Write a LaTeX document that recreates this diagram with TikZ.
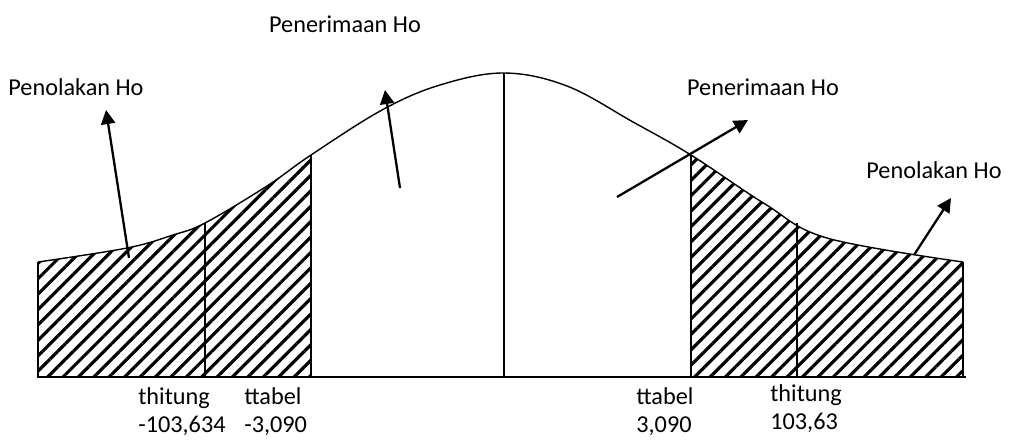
\documentclass[tikz,border=0pt]{standalone}
\usepackage{fontspec}
\setmainfont{Carlito}
\usetikzlibrary{arrows.meta, patterns.meta}
\definecolor{inkblack}{HTML}{000000}
\tikzset{
  curveline/.style={line width=0.8pt, inkblack},
  axisline/.style={line width=1.6pt, inkblack},
  boundline/.style={line width=0.6pt, inkblack},
  hatch/.style={pattern={Lines[angle=45, distance=6.2pt, line width=1.8pt]}, pattern color=inkblack},
  arr/.style={-{Triangle[length=8pt, width=8pt]}, line width=1.3pt, inkblack},
  lbl/.style={font=\fontsize{13.8}{16}\selectfont, inner sep=0pt},
  vallbl/.style={lbl, align=left, anchor=north west}
}
% curve of the distribution (pixel units)
\def\normcurve{plot[smooth, tension=0.6] coordinates {(38,262) (127,248) (173,235) (205,223) (267,186) (311,155) (382,110) (440,85) (504,73) (567,86) (633,122) (691,155) (765,204) (827,238) (963,262)}}

\begin{document}
\begin{tikzpicture}[x=0.02cm, y=-0.02cm]
\useasboundingbox (0,0) rectangle (1011,440);

% ===== HATCHED TAILS =====
\begin{scope}
  \clip (38,0) rectangle (311,377);
  \fill[hatch] \normcurve -- (963,377) -- (38,377) -- cycle;
\end{scope}
\begin{scope}
  \clip (691,0) rectangle (963,377);
  \fill[hatch] \normcurve -- (963,377) -- (38,377) -- cycle;
\end{scope}

% ===== CURVE AND AXIS =====
\draw[curveline] \normcurve;
\draw[axisline] (37,377) -- (966,377);

% ===== CRITICAL VALUE LINES =====
\coordinate (hl) at (38,262);
\coordinate (tl) at (205,223);
\coordinate (bl) at (311,155);
\coordinate (mid) at (504,73);
\coordinate (br) at (691,155);
\coordinate (tr) at (797,223);
\coordinate (hr) at (963,262);
\foreach \c in {hl, tl, bl, mid, br, tr, hr}
  \draw[boundline] (\c) -- (\c |- 0,377);

% ===== LABELS =====
\node[lbl] (rejL) at (76,87)  {Penolakan Ho};
\node[lbl] (accC) at (345,24) {Penerimaan Ho};
\node[lbl] (accR) at (763,87) {Penerimaan Ho};
\node[lbl] (rejR) at (934,170) {Penolakan Ho};

\node[vallbl] (hitL) at (138,387) {thitung\\-103,634};
\node[vallbl] (tabL) at (244,387) {ttabel\\-3,090};
\node[vallbl] (tabR) at (636,387) {ttabel\\3,090};
\node[vallbl] (hitR) at (770,384) {thitung\\103,63};

% ===== POINTER ARROWS =====
\coordinate (pL0) at (129,258);  \coordinate (pL1) at (106,110);
\coordinate (pC0) at (400,188);  \coordinate (pC1) at (385,90);
\coordinate (pR0) at (617,197);  \coordinate (pR1) at (748,120);
\coordinate (pF0) at (914,255);  \coordinate (pF1) at (951,198);
\draw[arr] (pL0) -- (pL1);
\draw[arr] (pC0) -- (pC1);
\draw[arr] (pR0) -- (pR1);
\draw[arr] (pF0) -- (pF1);

\end{tikzpicture}
\end{document}
